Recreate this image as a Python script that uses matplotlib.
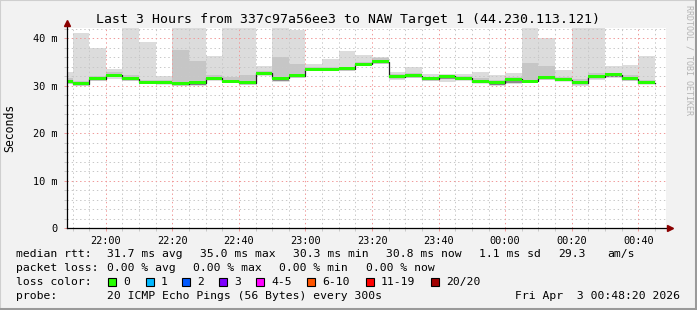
import numpy as np
import matplotlib
matplotlib.use("Agg")
import matplotlib.pyplot as plt
from matplotlib.lines import Line2D
from matplotlib.patches import Rectangle

# 5 minute steps, column 0 starts 21:45 (x in minutes from 21:45)
median = [30.9, 30.4, 31.5, 32.2, 31.5, 30.8, 30.7, 30.4, 30.6, 31.6, 31.0, 30.7,
          32.7, 31.6, 32.1, 33.5, 33.5, 33.6, 34.5, 35.1, 31.9, 32.1, 31.5, 32.0,
          31.6, 30.9, 30.7, 31.4, 31.0, 31.7, 31.3, 30.7, 31.9, 32.3, 31.5, 30.7]
smoke_max = [33.0, 41.2, 38.0, 33.5, 45.0, 39.3, 32.1, 45.0, 45.0, 36.3, 45.0, 45.0,
             34.2, 45.0, 41.8, 34.5, 35.7, 37.3, 36.5, 36.0, 33.0, 34.0, 32.5, 32.4,
             32.5, 33.0, 32.3, 32.6, 45.0, 40.0, 33.3, 45.0, 45.0, 34.2, 34.4, 36.3]
smoke_q3 = [31.6, 31.0, 32.0, 32.9, 32.2, 31.3, 31.2, 37.6, 35.2, 32.2, 31.8, 32.3,
            33.2, 36.0, 34.7, 33.9, 33.9, 34.0, 35.0, 35.8, 32.4, 32.8, 31.9, 32.2,
            32.0, 31.6, 31.2, 31.9, 34.9, 34.2, 31.8, 31.4, 32.6, 32.7, 32.2, 31.3]
smoke_q1 = [30.7, 30.2, 31.3, 31.9, 31.3, 30.6, 30.5, 30.2, 30.1, 31.4, 30.8, 30.3,
            32.4, 31.1, 31.9, 33.3, 33.3, 33.4, 34.3, 34.8, 31.6, 31.9, 31.3, 31.5,
            31.4, 30.7, 30.1, 30.7, 30.8, 31.5, 31.1, 30.3, 31.6, 31.9, 31.3, 30.5]
smoke_min = [30.4, 30.0, 31.0, 31.5, 31.0, 30.3, 30.3, 30.0, 29.9, 31.1, 30.5, 30.1,
             32.1, 30.9, 31.6, 33.2, 33.2, 33.2, 34.1, 34.5, 31.3, 31.7, 31.1, 30.8,
             31.1, 30.5, 29.9, 30.4, 30.6, 31.3, 31.0, 30.0, 31.3, 31.7, 31.1, 30.3]

xtick_pos = [15, 35, 55, 75, 95, 115, 135, 155, 175]
xtick_labels = ["22:00", "22:20", "22:40", "23:00", "23:20", "23:40", "00:00", "00:20", "00:40"]
ytick_pos = [0, 10, 20, 30, 40]
ytick_labels = ["0", "10 m", "20 m", "30 m", "40 m"]

loss_labels = ["0", "1", "2", "3", "4-5", "6-10", "11-19", "20/20"]
loss_colors = ["#26ff00", "#00b8ff", "#0059ff", "#7e00ff", "#ff00ff", "#ff5500", "#ff0000", "#a00000"]

W, H = 697, 310
mono = "DejaVu Sans Mono"
fig = plt.figure(figsize=(W/100, H/100), dpi=100, facecolor="#f2f2f2")

def px(x, y):
    return x/W, 1 - y/H

# frame
fig.add_artist(Rectangle((0, 0), 1, 1, transform=fig.transFigure, fill=False,
                         edgecolor="#cfcfcf", lw=1.5))
fig.add_artist(Line2D([0, 1], [1/H, 1/H], transform=fig.transFigure, color="#9a9a9a", lw=2.2))
fig.add_artist(Line2D([1-1/W, 1-1/W], [0, 1], transform=fig.transFigure, color="#9a9a9a", lw=2.2))

L, R, T, B = 67, 666, 28, 228
ax = fig.add_axes([L/W, 1 - B/H, (R-L)/W, (B-T)/H])
ax.set_facecolor("white")
x0, x1 = 3.333, 183.333
ax.set_xlim(x0, x1)
ax.set_ylim(0, 42.2)

edges = np.arange(len(median) + 1) * 5.0
def ext(a):
    a = np.asarray(a, float)
    return np.r_[a, a[-1]]

ax.fill_between(edges, ext(smoke_min), ext(smoke_max), step="post", color="#dcdcdc", lw=0, zorder=1)
ax.fill_between(edges, ext(smoke_q1), ext(smoke_q3), step="post", color="#c6c6c6", lw=0, zorder=1.1)
ax.fill_between(edges, ext(smoke_q1), ext(median), step="post", color="#8c8c8c", lw=0, zorder=1.2)

# grid (drawn over the smoke)
dot = (0, (1.4, 2.8))
for m in np.arange(0, 185, 5):
    if m in xtick_pos:
        continue
    ax.axvline(m, color="#c8c8c8", lw=0.72, ls=dot, zorder=2)
for m in np.arange(2, 43, 2):
    if m % 10 == 0:
        continue
    ax.axhline(m, color="#c8c8c8", lw=0.72, ls=dot, zorder=2)
for m in xtick_pos:
    ax.axvline(m, color="#f09a9a", lw=0.72, ls=dot, zorder=2.1)
for m in ytick_pos[1:]:
    ax.axhline(m, color="#f09a9a", lw=0.72, ls=dot, zorder=2.1)

# median line + loss colour band
ax.step(edges, ext(median), where="post", color="#202020", lw=0.9, zorder=3)
ax.fill_between(edges, ext(median) - 0.32, ext(median) + 0.32, step="post",
                color=loss_colors[0], lw=0, zorder=3.1)

ax.set_xticks(xtick_pos)
ax.set_xticklabels(xtick_labels)
ax.set_xticks(np.arange(5, 185, 5), minor=True)
ax.set_yticks(ytick_pos)
ax.set_yticklabels(ytick_labels)
ax.set_yticks(np.arange(2, 43, 2), minor=True)
ax.tick_params(which="major", length=2, width=0.7, color="#f09a9a", labelsize=7.4, pad=4,
               labelcolor="#000000")
ax.tick_params(which="minor", length=2, width=0.7, color="#c8c8c8")
for lab in ax.get_xticklabels() + ax.get_yticklabels():
    lab.set_family(mono)
ax.yaxis.set_tick_params(pad=5)

for s in ["top", "right", "left", "bottom"]:
    ax.spines[s].set_visible(False)

# axis lines with arrows
fig.add_artist(Line2D([L/W, 672/W], [1-B/H, 1-B/H], transform=fig.transFigure, color="black", lw=0.9))
fig.add_artist(Line2D([L/W, L/W], [1-B/H, 1-22/H], transform=fig.transFigure, color="black", lw=0.9))
fig.add_artist(Line2D([670/W], [1-B/H], transform=fig.transFigure, marker=">", color="#8b0000",
                      markersize=4.5, lw=0))
fig.add_artist(Line2D([L/W], [1-23/H], transform=fig.transFigure, marker="^", color="#8b0000",
                      markersize=4.5, lw=0))

# texts
fig.text(*px(348.5, 19), "Last 3 Hours from 337c97a56ee3 to NAW Target 1 (44.230.113.121)",
         family=mono, fontsize=9.5, ha="center", va="center")
fig.text(*px(10, 128), "Seconds", family=mono, fontsize=8.3, rotation=90, ha="center", va="center")
fig.text(*px(688.5, 5), "RRDTOOL / TOBI OETIKER", family=mono, fontsize=6, rotation=270,
         ha="center", va="top", color="#b4b4b4")

fs = 8.2
def t(x, y, s, **kw):
    fig.text(*px(x, y), s, family=mono, fontsize=fs, va="center", **kw)

y1, y2, y3, y4 = 254, 268.3, 282.3, 295.7
t(16, y1, "median rtt:")
t(107.3, y1, "31.7 ms avg")
t(200, y1, "35.0 ms max")
t(293.3, y1, "30.3 ms min")
t(386, y1, "30.8 ms now")
t(479.3, y1, "1.1 ms sd")
t(558.3, y1, "29.3")
t(607.3, y1, "am/s")

t(16, y2, "packet loss:")
t(107.3, y2, "0.00 % avg")
t(193.3, y2, "0.00 % max")
t(279.3, y2, "0.00 % min")
t(365.7, y2, "0.00 % now")

t(16, y3, "loss color:")
box_x = [108.3, 145.7, 182.3, 219, 256, 307.3, 365.7, 430.7]
for bx, lab, col in zip(box_x, loss_labels, loss_colors):
    fig.add_artist(Rectangle(px(bx, y3 + 4), 8/W, 8/H, transform=fig.transFigure,
                             facecolor=col, edgecolor="black", lw=0.8))
    t(bx + 15, y3, lab)

t(16, y4, "probe:")
t(107.3, y4, "20 ICMP Echo Pings (56 Bytes) every 300s")
t(680, y4, "Fri Apr  3 00:48:20 2026", ha="right")

fig.savefig("out.png", dpi=100, facecolor=fig.get_facecolor())
